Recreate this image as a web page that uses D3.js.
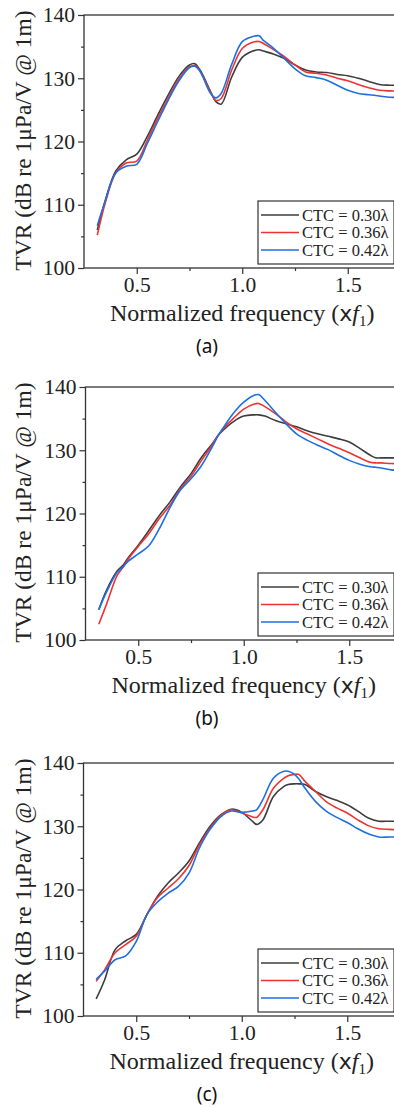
<!DOCTYPE html>
<html>
<head>
<meta charset="utf-8">
<script src="https://cdn.jsdelivr.net/npm/d3@7"></script>
<style>
  body { margin: 0; background: #fff; }
  svg { display: block; }
</style>
</head>
<body>
<svg id="vis"></svg>
<script>
// Datos
const SERIES = ["CTC = 0.30λ", "CTC = 0.36λ", "CTC = 0.42λ"];
const PANEL_LABELS = ["(a)", "(b)", "(c)"];
const X_TICKS = [0.5, 1.0, 1.5];
const X_MINOR = [0.75, 1.25, 1.75];
const Y_TICKS = [100, 110, 120, 130, 140];
const Y_MINOR = [105, 115, 125, 135];

// Panel (a)
const freqA = [0.313, 0.35, 0.40, 0.45, 0.50, 0.55, 0.60, 0.65, 0.70, 0.75, 0.775, 0.80, 0.85, 0.875, 0.90, 0.95, 1.00, 1.05, 1.08, 1.10, 1.15, 1.20, 1.25, 1.30, 1.35, 1.40, 1.45, 1.50, 1.55, 1.60, 1.65, 1.70, 1.75];
const tvrA030 = [106.0, 110.6, 115.3, 117.1, 118.0, 120.8, 124.2, 127.4, 130.3, 132.1, 132.3, 131.3, 127.9, 126.3, 125.9, 130.2, 133.3, 134.3, 134.5, 134.3, 133.8, 133.1, 132.1, 131.3, 131.0, 130.9, 130.6, 130.4, 130.0, 129.5, 129.0, 128.9, 128.9];
const tvrA036 = [105.2, 110.2, 115.0, 116.6, 116.9, 120.2, 123.7, 126.9, 129.9, 131.8, 132.0, 131.1, 127.8, 126.5, 126.8, 131.3, 134.7, 135.7, 135.8, 135.5, 134.5, 133.4, 132.1, 131.0, 130.8, 130.5, 130.0, 129.6, 129.0, 128.5, 128.1, 128.0, 128.0];
const tvrA042 = [106.7, 110.5, 115.0, 116.1, 116.4, 119.7, 123.2, 126.6, 129.6, 131.7, 131.9, 131.1, 127.6, 126.9, 127.6, 132.2, 135.8, 136.6, 136.7, 136.0, 134.7, 133.1, 131.5, 130.4, 130.1, 129.7, 128.9, 128.1, 127.6, 127.4, 127.2, 127.0, 127.0];

// Panel (b)
const freqB = [0.313, 0.35, 0.40, 0.43, 0.45, 0.50, 0.55, 0.60, 0.65, 0.70, 0.75, 0.80, 0.85, 0.88, 0.90, 0.95, 1.00, 1.05, 1.07, 1.10, 1.15, 1.20, 1.25, 1.30, 1.35, 1.40, 1.45, 1.50, 1.55, 1.60, 1.625, 1.65, 1.70, 1.75];
const tvrB030 = [104.8, 107.9, 110.9, 111.9, 112.9, 115.0, 117.3, 119.7, 121.8, 124.2, 126.3, 128.9, 131.0, 132.4, 133.1, 134.5, 135.4, 135.6, 135.6, 135.4, 134.7, 134.2, 133.7, 133.1, 132.6, 132.2, 131.8, 131.3, 130.3, 129.2, 128.8, 128.8, 128.8, 128.8];
const tvrB036 = [102.5, 105.7, 110.2, 111.6, 112.7, 114.8, 116.8, 119.2, 121.3, 123.9, 125.9, 128.4, 130.8, 132.4, 133.3, 135.0, 136.5, 137.3, 137.4, 136.9, 135.8, 134.5, 133.4, 132.6, 131.8, 131.0, 130.3, 129.6, 128.8, 128.1, 128.0, 128.0, 127.9, 127.9];
const tvrB042 = [104.8, 107.6, 110.7, 111.6, 112.4, 113.6, 114.9, 117.6, 120.9, 123.7, 125.5, 127.6, 130.5, 132.4, 133.4, 135.8, 137.6, 138.7, 138.8, 137.9, 136.0, 134.2, 132.6, 131.6, 130.8, 130.1, 129.2, 128.4, 127.8, 127.4, 127.3, 127.2, 126.9, 126.8];

// Panel (c)
const freqC = [0.31, 0.35, 0.40, 0.45, 0.50, 0.55, 0.60, 0.65, 0.70, 0.75, 0.80, 0.85, 0.90, 0.95, 1.00, 1.05, 1.07, 1.10, 1.15, 1.20, 1.22, 1.25, 1.27, 1.30, 1.35, 1.40, 1.45, 1.50, 1.55, 1.60, 1.65, 1.70, 1.75];
const tvrC030 = [102.7, 105.7, 110.5, 111.9, 112.9, 116.0, 118.9, 121.0, 122.6, 124.5, 127.4, 130.0, 131.8, 132.7, 132.2, 130.8, 130.3, 131.0, 134.7, 136.3, 136.6, 136.7, 136.7, 136.6, 135.5, 134.7, 134.1, 133.4, 132.4, 131.3, 130.8, 130.8, 130.8];
const tvrC036 = [105.5, 107.3, 110.0, 111.3, 112.6, 116.0, 118.7, 120.2, 121.7, 123.8, 127.1, 129.7, 131.7, 132.6, 132.1, 131.5, 131.4, 132.6, 136.0, 137.6, 138.0, 138.2, 138.2, 137.1, 135.5, 133.9, 132.9, 132.1, 131.0, 130.1, 129.6, 129.5, 129.4];
const tvrC042 = [105.8, 107.1, 108.9, 109.5, 111.8, 116.0, 118.0, 119.4, 120.5, 122.6, 126.6, 129.5, 131.5, 132.4, 132.2, 132.4, 132.6, 134.2, 137.6, 138.7, 138.7, 138.2, 137.5, 136.0, 133.9, 132.4, 131.4, 130.6, 129.6, 128.8, 128.3, 128.3, 128.3];

const PANELS = [
    { freq: freqA, values: [tvrA030, tvrA036, tvrA042] },
    { freq: freqB, values: [tvrB030, tvrB036, tvrB042] },
    { freq: freqC, values: [tvrC030, tvrC036, tvrC042] },
];

const WIDTH = 394;
const HEIGHT = 1107;
const COLORS = ["#3d3d3d", "#ee3333", "#1f6fe0"];
const TOPS = [15, 387, 763];
const LEFTS = [84, 85.5, 83.5];
const PLOT_H = 253;
const PLOT_W = 316.5;
const SERIF = "'Liberation Serif', 'Times New Roman', serif";
const AXIS_COLOR = "#333";

const svg = d3.select("#vis")
    .attr("width", WIDTH)
    .attr("height", HEIGHT)
    .style("font-family", SERIF);

PANELS.forEach((panel, i) => {
    const top = TOPS[i];
    const left = LEFTS[i];

    const escalaX = d3.scaleLinear().domain([0.25, 1.75]).range([left, left + PLOT_W]);
    const escalaY = d3.scaleLinear().domain([100, 140]).range([top + PLOT_H, top]);

    const g = svg.append("g");

    // lineas
    const linea = d3.line()
        .x(d => escalaX(d[0]))
        .y(d => escalaY(d[1]))
        .curve(d3.curveCatmullRom.alpha(0.5));

    panel.values.forEach((serie, k) => {
        const puntos = panel.freq.map((f, j) => [f, serie[j]]);
        g.append("path")
            .datum(puntos)
            .attr("fill", "none")
            .attr("stroke", COLORS[k])
            .attr("stroke-width", 1.6)
            .attr("d", linea);
    });

    // marco
    g.append("rect")
        .attr("x", left)
        .attr("y", top)
        .attr("width", PLOT_W)
        .attr("height", PLOT_H)
        .attr("fill", "none")
        .attr("stroke", AXIS_COLOR)
        .attr("stroke-width", 1.3);

    // eje Y
    const ejeY = g.append("g")
        .attr("transform", `translate(${left}, 0)`)
        .call(d3.axisLeft(escalaY).tickValues(Y_TICKS).tickSize(6).tickPadding(3));
    ejeY.append("g")
        .call(d3.axisLeft(escalaY).tickValues(Y_MINOR).tickSize(3).tickFormat(""));
    ejeY.selectAll(".domain").remove();
    ejeY.selectAll("line").attr("stroke", AXIS_COLOR).attr("stroke-width", 1.2);
    ejeY.selectAll("text")
        .attr("fill", "#222")
        .style("font-family", SERIF)
        .style("font-size", "21.5px");

    // eje X
    const ejeX = g.append("g")
        .attr("transform", `translate(0, ${top + PLOT_H})`)
        .call(d3.axisBottom(escalaX).tickValues(X_TICKS).tickSize(6).tickPadding(3).tickFormat(d3.format(".1f")));
    ejeX.append("g")
        .call(d3.axisBottom(escalaX).tickValues(X_MINOR).tickSize(3).tickFormat(""));
    ejeX.selectAll(".domain").remove();
    ejeX.selectAll("line").attr("stroke", AXIS_COLOR).attr("stroke-width", 1.2);
    ejeX.selectAll("text")
        .attr("fill", "#222")
        .style("font-family", SERIF)
        .style("font-size", "21.5px");

    // titulo eje X
    const tituloX = g.append("text")
        .attr("x", left + PLOT_W / 2)
        .attr("y", top + PLOT_H + 53)
        .attr("text-anchor", "middle")
        .attr("fill", "#222")
        .style("font-size", "24px");
    tituloX.append("tspan").text("Normalized frequency (");
    tituloX.append("tspan").style("font-family", "'DejaVu Sans', sans-serif").style("font-size", "22px").text("x");
    tituloX.append("tspan").style("font-style", "italic").text("f");
    tituloX.append("tspan").attr("dy", 5).style("font-size", "15px").text("1");
    tituloX.append("tspan").attr("dy", -5).text(")");

    // titulo eje Y
    g.append("text")
        .attr("transform", `translate(31, ${top + PLOT_H / 2 - 1}) rotate(-90)`)
        .attr("text-anchor", "middle")
        .attr("fill", "#222")
        .style("font-size", "23.5px")
        .text("TVR (dB re 1μPa/V @ 1m)");

    // etiqueta del panel
    g.append("text")
        .attr("x", 207)
        .attr("y", top + PLOT_H + 85)
        .attr("text-anchor", "middle")
        .attr("fill", "#111")
        .style("font-family", "'Noto Sans', sans-serif")
        .style("font-size", "19px")
        .text(PANEL_LABELS[i]);

    // leyenda
    const leyenda = g.append("g").attr("transform", `translate(258, ${top + 186})`);
    leyenda.append("rect")
        .attr("width", 136)
        .attr("height", 63)
        .attr("fill", "#fff")
        .attr("stroke", AXIS_COLOR)
        .attr("stroke-width", 1.2);
    SERIES.forEach((nombre, k) => {
        const yy = 14 + k * 17.5;
        leyenda.append("line")
            .attr("x1", 3).attr("x2", 41)
            .attr("y1", yy).attr("y2", yy)
            .attr("stroke", COLORS[k])
            .attr("stroke-width", 1.6);
        leyenda.append("text")
            .attr("x", 44)
            .attr("y", yy + 5.5)
            .attr("fill", "#222")
            .style("font-size", "16.5px")
            .text(nombre);
    });
});
</script>
</body>
</html>
